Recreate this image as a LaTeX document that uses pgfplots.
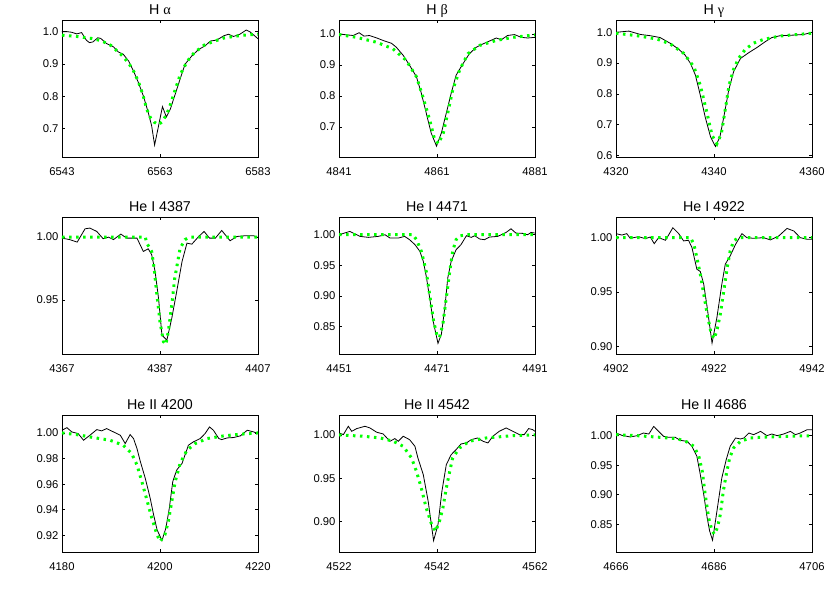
\documentclass[border=0pt]{standalone}
\usepackage{fontspec}
\setmainfont{Liberation Sans}
\newfontfamily\greekf{Liberation Serif}
\usepackage{pgfplots}
\pgfplotsset{compat=1.18}
\definecolor{fitgreen}{rgb}{0,1,0}
\pgfplotsset{
  panel/.style={
    width=196bp, height=137bp, scale only axis,
    anchor=north west,
    tick align=inside, major tick length=3bp,
    axis line style={line width=0.6bp},
    every tick/.style={black, line width=0.6bp},
    tick label style={font=\fontsize{11.3}{13}\selectfont},
    /pgf/number format/assume math mode=true,
    /pgf/number format/1000 sep={},
    scaled ticks=false,
    title style={font=\fontsize{14.3}{16}\selectfont, at={(0.5,1)}, anchor=base},
    xticklabel style={anchor=base, yshift=-18bp},
    clip=true,
  },
  one/.style={yticklabel style={/pgf/number format/.cd, fixed, fixed zerofill, precision=1}},
  two/.style={yticklabel style={/pgf/number format/.cd, fixed, fixed zerofill, precision=2}},
  obs/.style={black, line width=0.8bp, no marks},
  mod/.style={fitgreen, line width=3bp, dash pattern=on 2.5bp off 4.5bp, no marks},
}
\begin{document}
\begin{tikzpicture}
\useasboundingbox (0,0) rectangle (830bp,-593bp);
% ---------- Row 1 ----------
\begin{axis}[panel, one, at={(62bp,-20bp)}, title={H {\greekf α}},
  xmin=6543, xmax=6583, ymin=0.612, ymax=1.036,
  xtick={6543,6563,6583}, ytick={0.7,0.8,0.9,1.0}]
\addplot[obs] coordinates {(6543,1.000)(6544,1.000)(6545,0.998)(6546,0.993)(6547,0.997)(6548,0.973)(6548.6,0.966)(6549.3,0.968)(6550.3,0.981)(6550.9,0.979)(6552.1,0.963)(6553.5,0.953)(6554.5,0.937)(6555.5,0.930)(6556.6,0.909)(6557.6,0.878)(6558.6,0.842)(6559.6,0.801)(6560.6,0.750)(6561.3,0.708)(6561.9,0.649)(6562.7,0.708)(6563.5,0.768)(6564.3,0.736)(6565.1,0.760)(6566.1,0.806)(6567.1,0.853)(6568.1,0.899)(6569.5,0.925)(6570.9,0.945)(6572.2,0.956)(6573.3,0.971)(6574.6,0.974)(6576.0,0.987)(6577.0,0.992)(6578.0,0.985)(6579.3,0.992)(6580.6,1.005)(6581.4,0.999)(6583,0.978)};
\addplot[mod] coordinates {(6543,0.989)(6546,0.985)(6549,0.979)(6551,0.972)(6553,0.957)(6555,0.930)(6556.5,0.905)(6557.6,0.878)(6558.6,0.845)(6559.5,0.805)(6560.3,0.760)(6561,0.735)(6561.8,0.720)(6562.7,0.712)(6563.5,0.722)(6564.2,0.740)(6564.8,0.760)(6565.8,0.806)(6567.1,0.866)(6568.5,0.907)(6570,0.935)(6572,0.958)(6574,0.970)(6576,0.980)(6578,0.985)(6580,0.989)(6583,0.992)};
\end{axis}
\begin{axis}[panel, one, at={(339bp,-20bp)}, title={H {\greekf β}},
  xmin=4841, xmax=4881, ymin=0.603, ymax=1.045,
  xtick={4841,4861,4881}, ytick={0.7,0.8,0.9,1.0}]
\addplot[obs] coordinates {(4841,1.0)(4842.6,0.997)(4843.9,0.995)(4845.1,1.004)(4846.1,0.993)(4847.2,0.995)(4848.7,0.987)(4850,0.979)(4851.7,0.970)(4852.7,0.957)(4854.1,0.931)(4855.4,0.899)(4856.8,0.862)(4857.8,0.809)(4858.8,0.745)(4859.8,0.681)(4860.9,0.638)(4861.9,0.681)(4862.9,0.745)(4863.9,0.809)(4864.9,0.867)(4866.3,0.904)(4867.6,0.936)(4869,0.957)(4870.4,0.968)(4871.7,0.977)(4873.1,0.987)(4874.1,0.981)(4875.4,0.995)(4876.8,0.998)(4878.2,0.989)(4879.5,0.987)(4881,0.989)};
\addplot[mod] coordinates {(4841,0.998)(4844.6,0.989)(4848.7,0.973)(4852,0.952)(4854.7,0.915)(4856.8,0.862)(4858.1,0.798)(4859.5,0.723)(4860.5,0.660)(4861.3,0.646)(4862.3,0.681)(4863.2,0.745)(4864.2,0.819)(4865.6,0.883)(4867.3,0.936)(4869.7,0.963)(4873.1,0.979)(4876.5,0.989)(4881,0.997)};
\end{axis}
\begin{axis}[panel, one, at={(616bp,-20bp)}, title={H {\greekf γ}},
  xmin=4320, xmax=4360, ymin=0.595, ymax=1.04,
  xtick={4320,4340,4360}, ytick={0.6,0.7,0.8,0.9,1.0}]
\addplot[obs] coordinates {(4320,1.0)(4322.6,1.004)(4325,0.993)(4327,0.989)(4329,0.983)(4331.1,0.964)(4332.8,0.945)(4334.1,0.926)(4335.2,0.899)(4336.2,0.861)(4337.2,0.796)(4338.2,0.725)(4339.3,0.660)(4340.3,0.629)(4341.2,0.660)(4342,0.725)(4343,0.812)(4344,0.872)(4345.4,0.915)(4347.1,0.934)(4348.8,0.951)(4350.5,0.970)(4351.8,0.983)(4353.5,0.989)(4356.3,0.991)(4358.3,0.993)(4360,1.0)};
\addplot[mod] coordinates {(4320,0.997)(4324.3,0.989)(4328.4,0.978)(4331.1,0.962)(4333.8,0.932)(4335.9,0.888)(4337.2,0.828)(4338.6,0.736)(4339.6,0.665)(4340.6,0.638)(4341.5,0.671)(4342.4,0.760)(4343.1,0.830)(4344,0.880)(4345,0.915)(4346.4,0.945)(4348.1,0.965)(4350.1,0.977)(4353.5,0.988)(4360,0.997)};
\end{axis}
% ---------- Row 2 ----------
\begin{axis}[panel, two, at={(62bp,-217bp)}, title={He I 4387},
  xmin=4367, xmax=4407, ymin=0.907, ymax=1.016,
  xtick={4367,4387,4407}, ytick={0.95,1.00}]
\addplot[obs] coordinates {(4367,0.9992)(4368.6,0.998)(4370.1,0.996)(4371.7,1.0066)(4372.7,1.0072)(4374.1,1.0045)(4375.4,0.9987)(4376.5,1.0)(4377.5,0.998)(4379,1.0024)(4380.2,0.9992)(4382.3,0.9992)(4383.6,0.9886)(4384.6,0.9907)(4385.3,0.986)(4386,0.9726)(4386.7,0.9513)(4387.4,0.922)(4388.4,0.918)(4389.4,0.9354)(4390.4,0.9566)(4391.5,0.9806)(4392.5,0.9952)(4393.5,0.9944)(4394.9,1.0005)(4396,1.0045)(4397.1,0.9992)(4398.3,0.9992)(4399.6,1.0053)(4401.3,0.9971)(4402.7,1.0005)(4404.4,1.0011)(4406.1,1.0011)(4407,0.9997)};
\addplot[mod] coordinates {(4367,1.0)(4384,1.0)(4384.3,0.9952)(4385.3,0.9886)(4385.8,0.9753)(4386.3,0.9566)(4387,0.9327)(4387.7,0.9168)(4388.2,0.9146)(4388.7,0.925)(4389.4,0.946)(4390,0.967)(4391.1,0.991)(4392.1,0.998)(4393,1.0)(4407,1.0)};
\end{axis}
\begin{axis}[panel, two, at={(339bp,-217bp)}, title={He I 4471},
  xmin=4451, xmax=4491, ymin=0.805, ymax=1.029,
  xtick={4451,4471,4491}, ytick={0.85,0.90,0.95,1.00}]
\addplot[obs] coordinates {(4451,1.0)(4453.2,1.0054)(4455.3,0.9973)(4457,0.9957)(4459,0.9973)(4460.4,1.0)(4461.4,0.9946)(4463.1,0.9946)(4464.4,0.9973)(4465.4,0.9919)(4466.5,0.9838)(4467.5,0.9729)(4468.2,0.9567)(4468.8,0.9323)(4469.5,0.8971)(4470.2,0.8592)(4471.2,0.8224)(4471.9,0.8376)(4472.6,0.8809)(4473.2,0.9296)(4473.9,0.9567)(4474.9,0.9756)(4475.9,0.9838)(4477,0.9984)(4478,0.9957)(4478.7,0.9984)(4479.7,0.993)(4480.7,0.9919)(4481.7,0.9962)(4483.4,0.9973)(4485.1,1.0038)(4486.1,1.0097)(4487.1,1.0027)(4488.5,1.0022)(4489.5,1.0)(4490.2,1.0038)(4491,1.0027)};
\addplot[mod] coordinates {(4451,1.0)(4466.1,1.0)(4466.8,0.992)(4467.8,0.973)(4468.8,0.940)(4469.6,0.897)(4470.3,0.859)(4471,0.835)(4471.5,0.832)(4472.2,0.854)(4472.9,0.897)(4473.6,0.940)(4474.2,0.973)(4474.9,0.992)(4475.6,0.998)(4476.9,1.0)(4491,1.0)};
\end{axis}
\begin{axis}[panel, two, at={(616bp,-217bp)}, title={He I 4922},
  xmin=4902, xmax=4942, ymin=0.893, ymax=1.019,
  xtick={4902,4922,4942}, ytick={0.90,0.95,1.00}]
\addplot[obs] coordinates {(4902,1.0037)(4903.2,1.0024)(4904.2,1.0037)(4904.9,0.9994)(4906.6,1.0009)(4908,0.9991)(4909,1.0006)(4909.8,0.9945)(4910.7,1.0)(4912.1,0.9976)(4913.6,1.0091)(4914.8,1.0037)(4915.8,0.997)(4916.8,0.9976)(4917.5,0.9909)(4918.5,0.971)(4919.2,0.9689)(4919.9,0.9573)(4920.6,0.936)(4921.6,0.903)(4922.6,0.9268)(4923.6,0.9573)(4924.3,0.9756)(4925.3,0.9832)(4926.4,0.9939)(4927.7,1.0037)(4928.7,1.0)(4930.1,0.9994)(4932.1,1.0)(4933.5,0.9979)(4935.2,1.0015)(4936.9,1.0085)(4938.3,1.0061)(4939.6,1.0)(4941,0.9985)(4942,0.9985)};
\addplot[mod] coordinates {(4902,1.0)(4917.2,1.0)(4917.9,0.9939)(4918.5,0.9817)(4919.2,0.9665)(4919.9,0.9482)(4920.6,0.9299)(4921.3,0.9146)(4922,0.907)(4922.6,0.9146)(4923.3,0.9299)(4924,0.9512)(4924.7,0.9726)(4925.3,0.9878)(4926,0.997)(4927,1.0)(4942,1.0)};
\end{axis}
% ---------- Row 3 ----------
\begin{axis}[panel, two, at={(62bp,-415bp)}, title={He II 4200},
  xmin=4180, xmax=4220, ymin=0.907, ymax=1.014,
  xtick={4180,4200,4220}, ytick={0.92,0.94,0.96,0.98,1.00}]
\addplot[obs] coordinates {(4180,1.0021)(4181,1.0041)(4182,1.0008)(4183.3,0.9995)(4184.4,0.9943)(4185.7,0.9982)(4187.1,1.0026)(4188.1,1.0016)(4189.1,1.0034)(4190.5,1.0008)(4191.9,0.9982)(4192.9,0.9917)(4193.9,0.9987)(4194.6,0.9956)(4195.3,0.9878)(4196,0.9775)(4197,0.9645)(4198,0.949)(4198.7,0.936)(4199.4,0.9244)(4200.4,0.9159)(4201.2,0.9257)(4201.9,0.9412)(4202.6,0.9619)(4203.4,0.971)(4204.5,0.9762)(4205.8,0.9904)(4206.8,0.993)(4208.2,0.9956)(4209.2,0.9995)(4210.1,1.0047)(4210.9,1.0021)(4212,0.9956)(4212.6,0.9948)(4213.7,0.9961)(4215,0.9964)(4216.4,0.9977)(4217.8,1.0021)(4219.1,1.0008)(4220,0.9995)};
\addplot[mod] coordinates {(4180,1.0)(4183,0.9987)(4186.4,0.9964)(4189.8,0.9943)(4192.5,0.9904)(4194.2,0.9840)(4195.3,0.9750)(4196.3,0.9620)(4197.3,0.9480)(4198.3,0.9340)(4199.3,0.9215)(4200,0.9153)(4201,0.9205)(4201.7,0.9309)(4202.4,0.9464)(4203.1,0.9619)(4204.1,0.9762)(4205.5,0.9865)(4207.2,0.9917)(4209.6,0.9956)(4213,0.9977)(4216.4,0.999)(4220,1.0)};
\end{axis}
\begin{axis}[panel, two, at={(339bp,-415bp)}, title={He II 4542},
  xmin=4522, xmax=4562, ymin=0.865, ymax=1.023,
  xtick={4522,4542,4562}, ytick={0.90,0.95,1.00}]
\addplot[obs] coordinates {(4522,1.0023)(4522.9,1.0004)(4523.9,1.01)(4524.6,1.0042)(4525.6,1.0073)(4527.3,1.01)(4528.3,1.0081)(4529.7,1.0031)(4531,1.0012)(4532.4,0.9927)(4533.4,0.9958)(4534.1,0.9927)(4535.1,0.9985)(4536.4,0.9946)(4537.5,0.9869)(4538.1,0.9735)(4539.2,0.9542)(4540.2,0.9235)(4541.3,0.8781)(4542.2,0.8965)(4543,0.935)(4543.9,0.9658)(4544.9,0.9773)(4545.9,0.9831)(4546.9,0.9896)(4548,0.9908)(4549,0.9946)(4550.3,0.9965)(4551.4,0.9927)(4552.4,0.9908)(4553.4,0.9985)(4554.7,1.0042)(4556.1,1.0081)(4557.5,1.0042)(4558.8,1.0004)(4559.8,1.0004)(4560.7,1.0073)(4561.5,1.0062)(4562,1.0042)};
\addplot[mod] coordinates {(4522,1.0)(4527,0.9985)(4530.4,0.9965)(4533.1,0.9927)(4535.1,0.9869)(4536.8,0.9735)(4537.8,0.9581)(4538.8,0.9388)(4539.8,0.9158)(4540.8,0.8985)(4541.7,0.8888)(4542.5,0.9004)(4543.2,0.9158)(4543.9,0.9388)(4544.6,0.9581)(4545.2,0.9735)(4546.6,0.985)(4548.6,0.9927)(4552,0.9965)(4557.5,0.9992)(4562,1.0)};
\end{axis}
\begin{axis}[panel, two, at={(616bp,-415bp)}, title={He II 4686},
  xmin=4666, xmax=4706, ymin=0.803, ymax=1.035,
  xtick={4666,4686,4706}, ytick={0.85,0.90,0.95,1.00}]
\addplot[obs] coordinates {(4666,1.0045)(4667.2,1.0006)(4668.9,0.9978)(4670.3,1.0)(4671.6,1.0045)(4672.7,1.0028)(4673.7,1.0157)(4674.7,1.0073)(4675.7,0.9989)(4676.7,0.9972)(4678.1,0.9972)(4679.1,0.9921)(4680.5,0.9904)(4681.5,0.982)(4682.5,0.9652)(4683.2,0.9343)(4683.9,0.9006)(4684.6,0.8612)(4685.1,0.8388)(4685.7,0.823)(4686.3,0.8556)(4687,0.8949)(4687.6,0.9287)(4688.5,0.9596)(4689.3,0.982)(4690.4,0.9961)(4691.4,0.9944)(4692.1,0.9961)(4693.1,1.0045)(4694.1,1.0017)(4695.5,1.0073)(4696.8,1.0)(4697.8,1.0028)(4698.9,1.0)(4700.2,1.0028)(4701.6,1.0073)(4702.6,1.0017)(4703.6,1.0045)(4705,1.0101)(4706,1.0101)};
\addplot[mod] coordinates {(4666,1.0017)(4670.3,1.0)(4675,0.9972)(4678.5,0.9949)(4680.5,0.9893)(4681.9,0.982)(4682.9,0.9652)(4683.6,0.9399)(4684.2,0.9006)(4684.9,0.8612)(4685.6,0.8388)(4686.1,0.8331)(4686.7,0.8444)(4687.3,0.8669)(4687.9,0.9062)(4688.5,0.9343)(4689.2,0.9624)(4690,0.9792)(4691.4,0.9904)(4693.4,0.9961)(4696.8,0.9978)(4700.9,0.9989)(4706,1.0)};
\end{axis}
\end{tikzpicture}
\end{document}
